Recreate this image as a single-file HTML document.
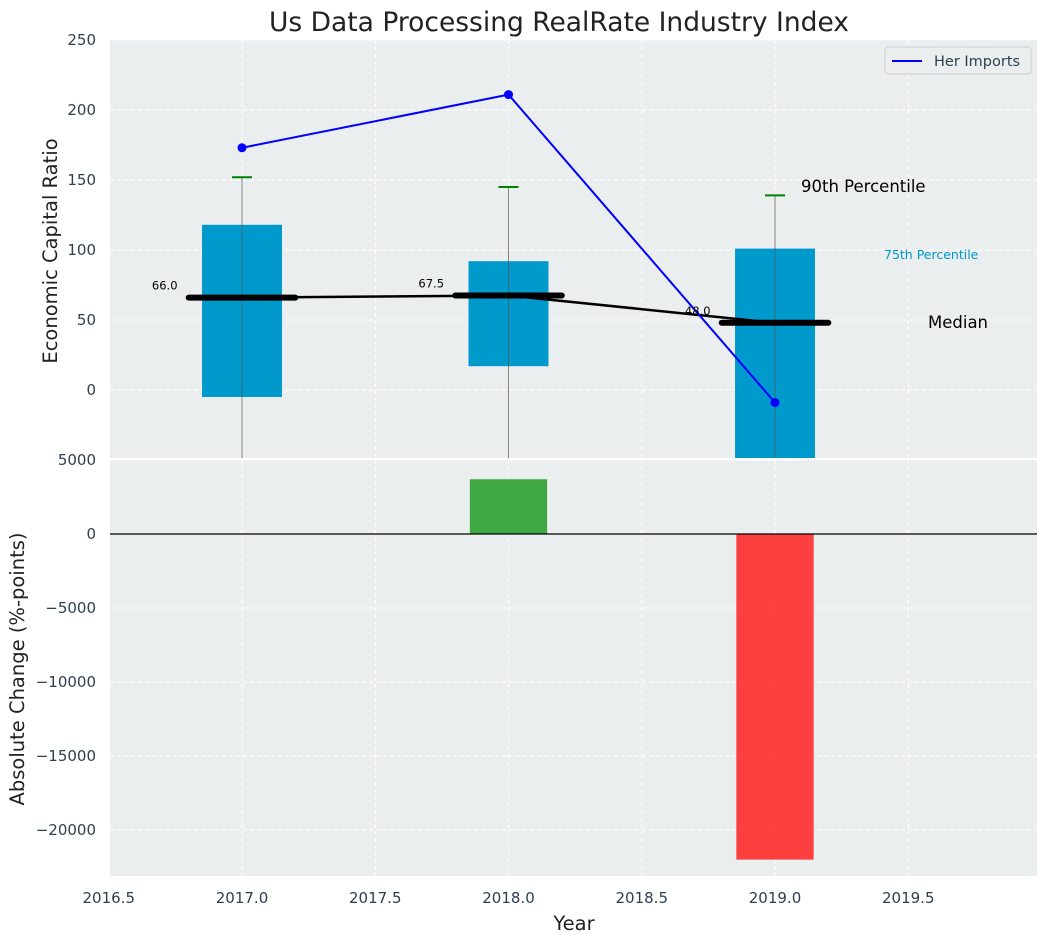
<!DOCTYPE html>
<html><head><meta charset="utf-8"><style>
body{margin:0;background:#fff;font-family:"Liberation Sans","DejaVu Sans",sans-serif}
svg text{font-family:"DejaVu Sans","Liberation Sans",sans-serif}
</style></head><body>
<svg id="c" width="1048" height="942" xmlns="http://www.w3.org/2000/svg"></svg>
<script>
const years=[2017,2018,2019];
const boxLow=[-5,17,-49];
const boxHigh=[118,92,101];
const whiskerHigh=[152,145,139];
const whiskerLow=[-60,-60,-60];
const medians=[66,67.5,48];
const imports=[173,211,-9];
const changes=[0,3700,-22000];
const xTicks=[2016.5,2017,2017.5,2018,2018.5,2019,2019.5];
const topTicks=[0,50,100,150,200,250];
const botTicks=[5000,0,-5000,-10000,-15000,-20000];

const L=110,R=1037,T1=40,B1=458,T2=460,B2=876;
const X=v=>108.75+(v-2016.5)*266.5;
const Y1=v=>390-v*1.4;
const Y2=v=>534-v*74/5000;
const svg=document.getElementById('c');
const NS='http://www.w3.org/2000/svg';
function el(t,a,p){const e=document.createElementNS(NS,t);for(const k in a)e.setAttribute(k,a[k]);(p||svg).appendChild(e);return e;}
function tx(s,a){const e=el('text',a);e.textContent=s;return e;}

let e=el('rect',{x:L,y:T1,width:R-L,height:B1-T1,fill:'#eaeeef'});


e=el('rect',{x:L,y:T2,width:R-L,height:B2-T2,fill:'#eaeeef'});



xTicks.forEach(v=>{
  el('line',{x1:X(v),x2:X(v),y1:T1,y2:B1,stroke:'#fff','stroke-dasharray':'4,3','stroke-width':1});
  el('line',{x1:X(v),x2:X(v),y1:T2,y2:B2,stroke:'#fff','stroke-dasharray':'4,3','stroke-width':1});
  e=tx(String(v.toFixed(1)),{x:X(v),y:903,'text-anchor':'middle','font-size':15,fill:'#2e3e50'});
  
  
});
[-50,...topTicks].forEach(v=>{
  el('line',{x1:L,x2:R,y1:Y1(v),y2:Y1(v),stroke:'#fff','stroke-dasharray':'4,3'});
});
topTicks.forEach(v=>{
  e=tx(String(v),{x:96,y:Y1(v)+5,'text-anchor':'end','font-size':15,fill:'#2e3e50'});
  
  
});
botTicks.forEach(v=>{
  el('line',{x1:L,x2:R,y1:Y2(v),y2:Y2(v),stroke:'#fff','stroke-dasharray':'4,3'});
  e=tx(String(v).replace('-','\u2212'),{x:96,y:Y2(v)+5,'text-anchor':'end','font-size':15,fill:'#2e3e50'});
  
  
});

const defs=el('defs',{});
const cp=el('clipPath',{id:'clip1'},defs);
el('rect',{x:L,y:T1,width:R-L,height:B1-T1},cp);
const g=el('g',{'clip-path':'url(#clip1)'});

years.forEach((yr,i)=>{
  e=el('rect',{x:X(yr-0.15),y:Y1(boxHigh[i]),width:X(yr+0.15)-X(yr-0.15),height:Y1(boxLow[i])-Y1(boxHigh[i]),fill:'#0099cc'},g);
  
  
  e=el('line',{x1:X(yr),x2:X(yr),y1:Y1(whiskerHigh[i]),y2:Y1(whiskerLow[i]),stroke:'#555','stroke-opacity':0.7,'stroke-width':1},g);
  
  
  e=el('line',{x1:X(yr)-10,x2:X(yr)+10,y1:Y1(whiskerHigh[i]),y2:Y1(whiskerHigh[i]),stroke:'green','stroke-width':2},g);
  
  
});
e=el('polyline',{points:years.map((y,i)=>X(y)+','+Y1(medians[i])).join(' '),fill:'none',stroke:'#000','stroke-width':2.5},g);


years.forEach((yr,i)=>{
  e=el('line',{x1:X(yr-0.2),x2:X(yr+0.2),y1:Y1(medians[i]),y2:Y1(medians[i]),stroke:'#000','stroke-width':6,'stroke-linecap':'round'},g);
  
  
  e=tx(medians[i].toFixed(1),{x:X(yr-0.29),y:Y1(medians[i])-8,'text-anchor':'middle','font-size':11.5,fill:'#000'});
  
  
});
e=el('polyline',{points:years.map((y,i)=>X(y)+','+Y1(imports[i])).join(' '),fill:'none',stroke:'blue','stroke-width':2},g);


years.forEach((yr,i)=>{
  e=el('circle',{cx:X(yr),cy:Y1(imports[i]),r:4.5,fill:'blue'},g);
  
  
});

e=tx('90th Percentile',{x:801,y:192,'font-size':16.5,fill:'#000'});

e=tx('75th Percentile',{x:884,y:259,'font-size':12.5,fill:'#0099cc'});

e=tx('Median',{x:928,y:328,'font-size':16.5,fill:'#000'});


e=el('rect',{x:885,y:47,width:146,height:27,rx:3,fill:'#eaeeef',stroke:'#ccc'});

el('line',{x1:892,x2:922,y1:61,y2:61,stroke:'blue','stroke-width':2});
e=tx('Her Imports',{x:934,y:66,'font-size':14.5,fill:'#2e3e50'});


years.forEach((yr,i)=>{
  if(!changes[i])return;
  const y0=Y2(0),y1=Y2(changes[i]);
  e=el('rect',{x:X(yr-0.145),y:Math.min(y0,y1),width:X(yr+0.145)-X(yr-0.145),height:Math.abs(y1-y0),fill:changes[i]>0?'#2ca02c':'#ff2020','fill-opacity':changes[i]>0?0.9:0.85});
  
  
});
el('line',{x1:L,x2:R,y1:Y2(0),y2:Y2(0),stroke:'#000','stroke-width':1.3});

e=tx('Us Data Processing RealRate Industry Index',{x:559,y:31,'text-anchor':'middle','font-size':26.5,fill:'#222'});

e=tx('Economic Capital Ratio',{x:0,y:0,'text-anchor':'middle','font-size':19.5,fill:'#222',transform:'translate(57,251) rotate(-90)'});

e=tx('Absolute Change (%-points)',{x:0,y:0,'text-anchor':'middle','font-size':19.5,fill:'#222',transform:'translate(24,669) rotate(-90)'});

e=tx('Year',{x:574,y:930,'text-anchor':'middle','font-size':19.5,fill:'#222'});

</script>
</body></html>
